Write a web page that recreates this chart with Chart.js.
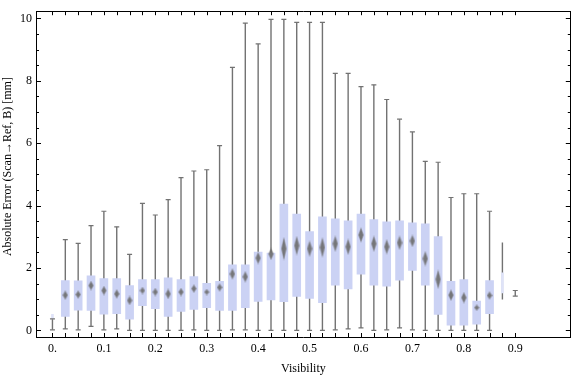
<!DOCTYPE html>
<html>
<head>
<meta charset="utf-8">
<script src="https://cdn.jsdelivr.net/npm/chart.js@4.4.1/dist/chart.umd.min.js"></script>
<style>
  html, body { margin: 0; padding: 0; background: #ffffff; }
  #wrap { width: 576px; height: 377px; }
</style>
</head>
<body>
<div id="wrap"><canvas id="c" width="576" height="377"></canvas></div>
<script>
// ---- data ----
const visibility = [0, 0.025, 0.05, 0.075, 0.1, 0.125, 0.15, 0.175, 0.2, 0.225, 0.25, 0.275, 0.3, 0.325, 0.35, 0.375, 0.4, 0.425, 0.45, 0.475, 0.5, 0.525, 0.55, 0.575, 0.6, 0.625, 0.65, 0.675, 0.7, 0.725, 0.75, 0.775, 0.8, 0.825, 0.85, 0.875, 0.9];
const whiskerMin = [0.02, 0.05, 0.02, 0.13, 0.02, 0.05, 0, 0, 0, 0, 0, 0.02, 0, 0, 0.02, 0.02, 0, 0, 0, 0, 0, 0, 0.02, 0.05, 0.08, 0, 0.02, 0.08, 0.02, 0, 0, 0, 0, 0, 0, 0.99, 1.10];
const quartile1 = [0.37, 0.45, 0.65, 0.64, 0.52, 0.54, 0.36, 0.79, 0.70, 0.45, 0.61, 0.67, 0.73, 0.64, 0.64, 0.73, 0.93, 0.98, 0.92, 1.09, 1.03, 0.89, 1.45, 1.33, 1.80, 1.45, 1.42, 1.61, 1.92, 1.45, 0.51, 0.17, 0.17, 0.20, 0.54, 1.20, 1.17];
const median = [0.45, 1.13, 1.15, 1.44, 1.28, 1.17, 0.96, 1.28, 1.23, 1.17, 1.23, 1.34, 1.23, 1.38, 1.81, 1.72, 2.32, 2.45, 2.62, 2.72, 2.62, 2.66, 2.78, 2.68, 3.06, 2.78, 2.68, 2.81, 2.87, 2.30, 1.64, 1.13, 1.05, 0.73, 1.12, 1.57, 1.20];
const quartile3 = [0.52, 1.60, 1.59, 1.75, 1.66, 1.66, 1.44, 1.63, 1.63, 1.69, 1.63, 1.73, 1.51, 1.57, 2.10, 2.10, 2.51, 2.48, 4.05, 3.73, 3.17, 3.64, 3.58, 3.51, 3.73, 3.55, 3.48, 3.51, 3.45, 3.42, 3.01, 1.57, 1.63, 0.94, 1.60, 1.85, 1.22];
const whiskerMax = [0.37, 2.91, 2.79, 3.36, 3.82, 3.32, 2.44, 4.07, 3.70, 4.19, 4.90, 5.11, 5.15, 5.92, 8.43, 9.85, 9.18, 9.97, 9.97, 9.87, 9.87, 9.87, 8.24, 8.24, 7.81, 7.87, 7.40, 6.77, 6.36, 5.42, 5.39, 4.26, 4.38, 4.38, 3.82, 2.82, 1.28];
const xTickValues = [0, 0.1, 0.2, 0.3, 0.4, 0.5, 0.6, 0.7, 0.8, 0.9];
const xTickLabels = ['0.', '0.1', '0.2', '0.3', '0.4', '0.5', '0.6', '0.7', '0.8', '0.9'];
const yTickValues = [0, 2, 4, 6, 8, 10];
const yTickLabels = ['0', '2', '4', '6', '8', '10'];
const yMinorValues = [0, 0.5, 1, 1.5, 2, 2.5, 3, 3.5, 4, 4.5, 5, 5.5, 6, 6.5, 7, 7.5, 8, 8.5, 9, 9.5, 10];
// bins with very few samples, drawn as thin boxes
const sparseBins = [0, 35, 36];

// ---- styling ----
const FONT = 'Liberation Serif, Times New Roman, serif';
const BOX = '#cbd2f4';
const BOX_LIGHT = '#dfe3f8';
const WHISK = '#727272';

const isSparse = i => sparseBins.indexOf(i) >= 0;

const diamondCache = {};
function diamond(h) {
  h = Math.max(4, Math.round(h));
  if (diamondCache[h]) return diamondCache[h];
  const c = document.createElement('canvas');
  c.width = 6; c.height = h + 2;
  const g = c.getContext('2d');
  g.fillStyle = 'rgba(110,110,110,0.5)';
  g.beginPath();
  g.moveTo(3, 0); g.lineTo(6, (h + 2) / 2); g.lineTo(3, h + 2); g.lineTo(0, (h + 2) / 2); g.closePath();
  g.fill();
  g.fillStyle = 'rgba(110,110,110,0.85)';
  g.beginPath();
  g.moveTo(3, 1.5); g.lineTo(5, (h + 2) / 2); g.lineTo(3, h + 0.5); g.lineTo(1, (h + 2) / 2); g.closePath();
  g.fill();
  diamondCache[h] = c;
  return c;
}

const whiskerData = visibility.map((v, i) => ({ x: v, y: [whiskerMin[i], whiskerMax[i]] }));
const boxData = visibility.map((v, i) => isSparse(i) ? { x: v, y: null } : { x: v, y: [quartile1[i], quartile3[i]] });
const thinBoxData = visibility.map((v, i) => isSparse(i) && i !== 36 ? { x: v, y: [quartile1[i], quartile3[i]] } : { x: v, y: null });
const capData = [];
visibility.forEach((v, i) => {
  if (i === 35) return;
  capData.push({ x: v, y: whiskerMin[i] });
  capData.push({ x: v, y: whiskerMax[i] });
});
const medianData = visibility.map((v, i) => ({ x: v, y: median[i] }));

const inwardTicks = {
  id: 'inwardTicks',
  afterDatasetsDraw(chart) {
    const { ctx, chartArea: a, scales } = chart;
    const x = scales.x, y = scales.y;
    ctx.save();
    ctx.strokeStyle = '#000';
    ctx.lineWidth = 1;
    ctx.beginPath();
    visibility.forEach(v => {
      const px = Math.round(x.getPixelForValue(v)) + 0.5;
      ctx.moveTo(px, a.bottom); ctx.lineTo(px, a.bottom - 4);
      ctx.moveTo(px, a.top); ctx.lineTo(px, a.top + 4);
    });
    yMinorValues.forEach(v => {
      const py = Math.round(y.getPixelForValue(v)) + 0.5;
      const len = yTickValues.indexOf(v) >= 0 ? 5 : 3;
      ctx.moveTo(a.left, py); ctx.lineTo(a.left + len, py);
      ctx.moveTo(a.right, py); ctx.lineTo(a.right - len, py);
    });
    ctx.stroke();
    ctx.restore();
  }
};

const frameAxis = {
  type: 'linear',
  ticks: { display: false },
  grid: { display: true, drawOnChartArea: false, drawTicks: false },
  border: { display: true, color: '#000', width: 1 }
};

new Chart(document.getElementById('c'), {
  type: 'bar',
  data: {
    datasets: [
      { type: 'bar', data: whiskerData, backgroundColor: WHISK, barThickness: 1.4, borderWidth: 0, inflateAmount: 0, grouped: false, order: 5, xAxisID: 'x', yAxisID: 'y' },
      { type: 'bar', data: boxData, backgroundColor: BOX, barThickness: 8, borderWidth: 0, grouped: false, order: 4, xAxisID: 'x', yAxisID: 'y' },
      { type: 'bar', data: thinBoxData, backgroundColor: BOX_LIGHT, barThickness: 2, borderWidth: 0, grouped: false, order: 3, xAxisID: 'x', yAxisID: 'y' },
      { type: 'scatter', data: capData, pointStyle: 'line', pointRadius: 2.5, borderColor: WHISK, pointBorderColor: WHISK, pointBorderWidth: 1.2, order: 2, xAxisID: 'x', yAxisID: 'y' },
      { type: 'scatter', data: medianData,
        pointRadius: ctx => isSparse(ctx.dataIndex) ? 0 : 3,
        pointStyle: ctx => diamond(7 * (quartile3[ctx.dataIndex] - quartile1[ctx.dataIndex])),
        order: 1, xAxisID: 'x', yAxisID: 'y' }
    ]
  },
  options: {
    responsive: false,
    animation: false,
    events: [],
    layout: { padding: { top: 4, right: 1, left: 0, bottom: 0 } },
    plugins: { legend: { display: false }, tooltip: { enabled: false } },
    scales: {
      x: {
        type: 'linear', position: 'bottom', min: -0.032, max: 1.008, offset: false,
        afterBuildTicks: s => { s.ticks = xTickValues.map(v => ({ value: v })); },
        afterFit: s => { s.height = 40; },
        ticks: {
          callback: (v) => { const k = xTickValues.indexOf(v); return k >= 0 ? xTickLabels[k] : ''; },
          font: { family: FONT, size: 12 }, color: '#000', padding: 5, maxRotation: 0, autoSkip: false
        },
        grid: { display: true, drawOnChartArea: false, drawTicks: false, offset: false },
        border: { display: true, color: '#000', width: 1 },
        title: { display: true, text: 'Visibility', font: { family: FONT, size: 12 }, color: '#000', padding: { top: 0, bottom: 1 } }
      },
      y: {
        type: 'linear', position: 'left', min: -0.21, max: 10.23,
        afterBuildTicks: s => { s.ticks = yTickValues.map(v => ({ value: v })); },
        afterFit: s => { s.width = 36; },
        ticks: {
          callback: (v) => { const k = yTickValues.indexOf(v); return k >= 0 ? yTickLabels[k] : ''; },
          font: { family: FONT, size: 12 }, color: '#000', padding: 4
        },
        grid: { display: true, drawOnChartArea: false, drawTicks: false },
        border: { display: true, color: '#000', width: 1 },
        title: { display: true, text: '\u00a0\u00a0\u00a0\u00a0\u00a0Absolute Error (Scan\u2192Ref, B) [mm]', font: { family: FONT, size: 12 }, color: '#000', padding: { top: 1, bottom: 0 } }
      },
      x2: Object.assign({}, frameAxis, { position: 'top', min: -0.032, max: 1.008, afterFit: s => { s.height = 0; } }),
      y2: Object.assign({}, frameAxis, { position: 'right', min: -0.21, max: 10.23, afterFit: s => { s.width = 0; } })
    }
  },
  plugins: [inwardTicks]
});
</script>
</body>
</html>
